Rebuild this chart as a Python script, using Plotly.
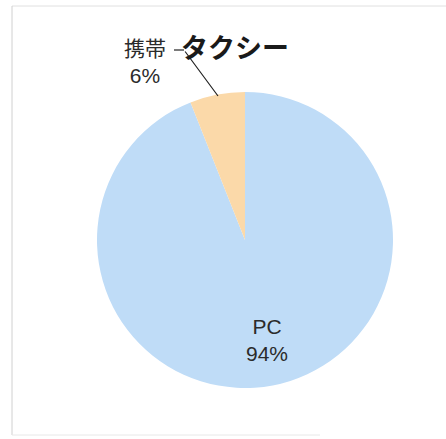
import plotly.graph_objects as go

title_text = "タクシー"
categories = ["PC", "携帯"]
values = [94, 6]
colors = ["#BFDCF7", "#FBD9A9"]

W, H = 446, 439
cx, cy, R = 245, 240, 148

fig = go.Figure(go.Pie(
    labels=categories,
    values=values,
    sort=False,
    direction="clockwise",
    rotation=0,
    marker=dict(colors=colors, line=dict(width=0)),
    textinfo="none",
    hoverinfo="label+percent",
    showlegend=False,
    domain=dict(x=[(cx - R) / W, (cx + R) / W], y=[1 - (cy + R) / H, 1 - (cy - R) / H]),
))

total = sum(values)
pct = [round(v / total * 100) for v in values]

def px(x, y):
    return x / W, 1 - y / H

annotations = []
x, y = px(267, 340)
annotations.append(dict(x=x, y=y, xref="paper", yref="paper", showarrow=False,
                        xanchor="center", yanchor="middle",
                        text=f"{categories[0]}<br>{pct[0]}%", align="center",
                        font=dict(size=21, color="#2b2b2b", family="Liberation Sans, Noto Sans CJK JP")))
x, y = px(218, 96)
annotations.append(dict(x=x, y=y, xref="paper", yref="paper", showarrow=True,
                        arrowhead=0, arrowwidth=1.2, arrowcolor="#222",
                        ax=184 - 218, ay=50 - 96, text="", standoff=0, startstandoff=0))
x0, y0 = px(174, 50)
x1, y1 = px(184, 50)
x, y = px(145, 62)
annotations.append(dict(x=x, y=y, xref="paper", yref="paper", showarrow=False,
                        xanchor="center", yanchor="middle",
                        text=f"{categories[1]}<br>{pct[1]}%", align="center",
                        font=dict(size=21, color="#2b2b2b", family="Liberation Sans, Noto Sans CJK JP")))
x, y = px(235, 46)
annotations.append(dict(x=x, y=y, xref="paper", yref="paper", showarrow=False,
                        xanchor="center", yanchor="middle",
                        text=f"<b>{title_text}</b>",
                        font=dict(size=27, color="#1a1a1a", family="Noto Sans CJK JP")))

shapes = [
    dict(type="line", xref="paper", yref="paper", x0=x0, y0=y0, x1=x1, y1=y1,
         line=dict(color="#222", width=1.2)),
    dict(type="line", xref="paper", yref="paper", x0=12 / W, y0=1 - 6 / H, x1=1, y1=1 - 6 / H,
         line=dict(color="#E0E0E0", width=1)),
    dict(type="line", xref="paper", yref="paper", x0=12 / W, y0=1 - 6 / H, x1=12 / W, y1=1 - 435 / H,
         line=dict(color="#D0D0D0", width=1)),
    dict(type="line", xref="paper", yref="paper", x0=12 / W, y0=1 - 435 / H, x1=320 / W, y1=1 - 435 / H,
         line=dict(color="#E8E8E8", width=1)),
]

fig.update_layout(
    width=W, height=H,
    margin=dict(l=0, r=0, t=0, b=0),
    paper_bgcolor="white", plot_bgcolor="white",
    annotations=annotations, shapes=shapes,
)

fig.write_html("out.html", config=dict(displayModeBar=False),
               post_script="document.body.style.margin='0px';document.body.style.overflow='hidden';")
